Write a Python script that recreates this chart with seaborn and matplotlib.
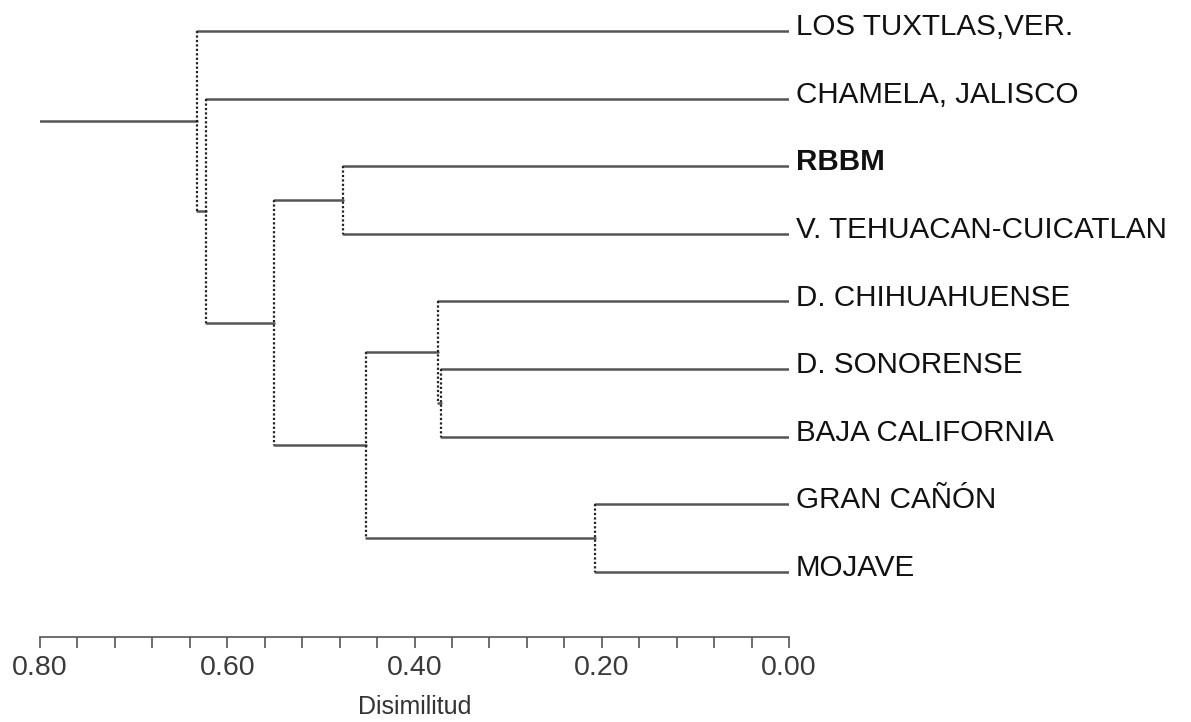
import numpy as np
import pandas as pd
import matplotlib
matplotlib.use("Agg")
import matplotlib.pyplot as plt
import seaborn as sns

# ---- data -------------------------------------------------------------
leaf_labels = ["LOS TUXTLAS,VER.", "CHAMELA, JALISCO", "RBBM",
               "V. TEHUACAN-CUICATLAN", "D. CHIHUAHUENSE", "D. SONORENSE",
               "BAJA CALIFORNIA", "GRAN CAÑÓN", "MOJAVE"]
# linkage: leaves are 0..8, merge k creates cluster 9+k
merge_a = [7, 5, 4, 2, 11, 12, 1, 0]
merge_b = [8, 6, 10, 3, 9, 13, 14, 15]
merge_h = [0.207, 0.372, 0.375, 0.476, 0.452, 0.550, 0.623, 0.632]
axis_max = 0.80
tick_values = [round(0.04 * i, 2) for i in range(21)]
tick_labels = [f"{v:.2f}" if abs(v / 0.2 - round(v / 0.2)) < 1e-9 else "" for v in tick_values]
bold_labels = ["RBBM"]

# ---- build dendrogram segments ---------------------------------------
n = len(leaf_labels)
pos = {i: float(i) for i in range(n)}
hgt = {i: 0.0 for i in range(n)}
rows = []
seg = 0
for k, (a, b, h) in enumerate(zip(merge_a, merge_b, merge_h)):
    cid = n + k
    pos[cid] = (pos[a] + pos[b]) / 2
    hgt[cid] = h
    rows += [(seg, h, pos[a], "v"), (seg, h, pos[b], "v")]
    seg += 1
    for c in (a, b):
        rows += [(seg, hgt[c], pos[c], "h"), (seg, h, pos[c], "h")]
        seg += 1
root = n + len(merge_h) - 1
rows += [(seg, hgt[root], pos[root], "h"), (seg, axis_max, pos[root], "h")]
df = pd.DataFrame(rows, columns=["seg", "x", "y", "kind"])

# ---- plot --------------------------------------------------------------
sns.set_style("white")
plt.rcParams["font.family"] = ["Liberation Sans", "DejaVu Sans"]

W, H = 1191, 722
fig = plt.figure(figsize=(W / 100, H / 100), dpi=100)
ax = fig.add_axes([40 / W, (H - 637) / H, (789 - 40) / W, 637 / H])

sns.lineplot(data=df[df.kind == "h"], x="x", y="y", units="seg", estimator=None,
             sort=False, color="#555555", linewidth=1.8, ax=ax, legend=False)
sns.lineplot(data=df[df.kind == "v"], x="x", y="y", units="seg", estimator=None,
             sort=False, color="#222222", linewidth=1.6, ax=ax, legend=False,
             linestyle=(0, (1, 1)))

ax.set_xlim(axis_max, 0.0)
sp = 67.6
ax.set_ylim(606 / sp, -31 / sp)

for i, lab in enumerate(leaf_labels):
    ax.annotate(lab, xy=(0.0, i), xytext=(5, -3), textcoords="offset points",
                ha="left", va="baseline", fontsize=21.3, color="#111111",
                fontweight="bold" if lab in bold_labels else "normal",
                annotation_clip=False)

for s in ["top", "left", "right"]:
    ax.spines[s].set_visible(False)
ax.spines["bottom"].set_color("#555555")
ax.spines["bottom"].set_linewidth(1.2)
ax.set_yticks([])
ax.set_ylabel("")
ax.set_xticks(tick_values)
ax.set_xticklabels(tick_labels)
ax.tick_params(axis="x", direction="out", length=8, width=1.2, color="#555555",
               labelsize=20.5, labelcolor="#3a3a3a", pad=5, bottom=True)
ax.set_xlabel("Disimilitud", fontsize=18, color="#333333", labelpad=10)

fig.savefig("out.png", dpi=100)
